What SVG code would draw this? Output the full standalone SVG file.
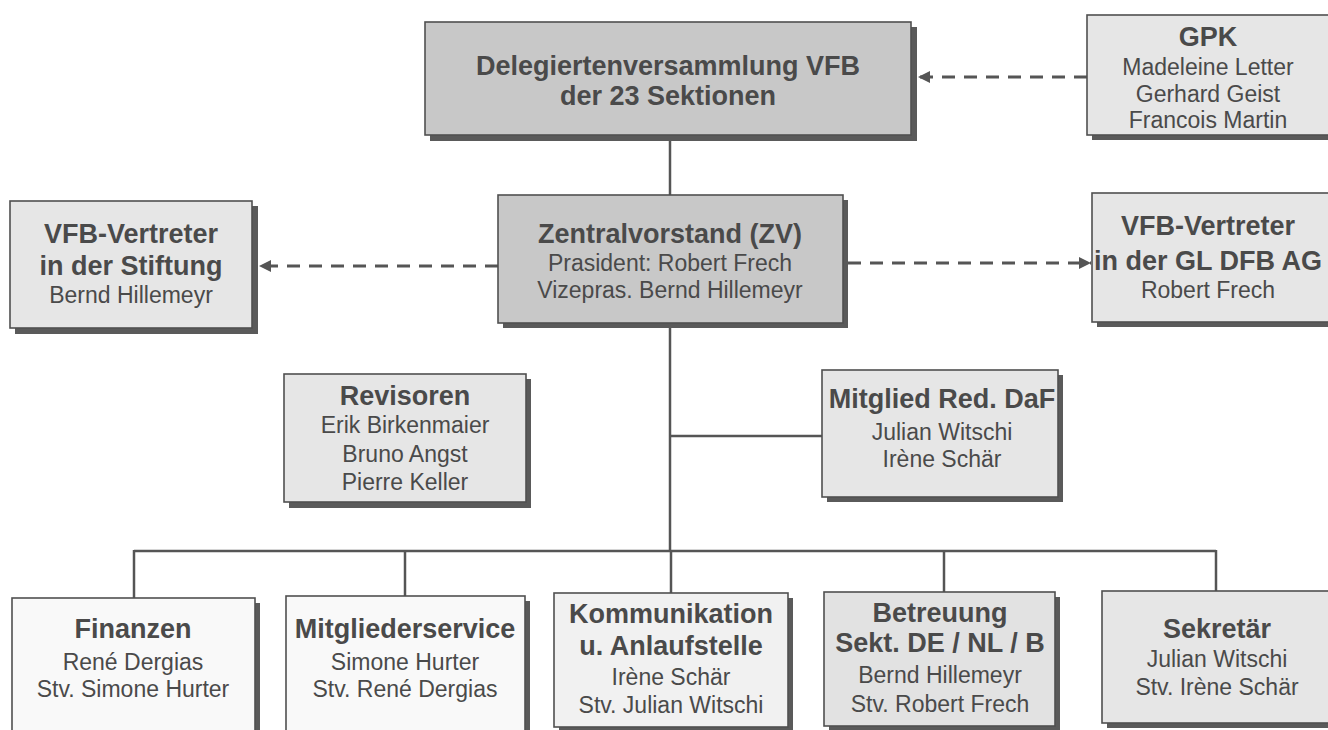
<svg xmlns="http://www.w3.org/2000/svg" width="1328" height="730" viewBox="0 0 1328 730">
<defs>
<style>
.box{stroke:#505050;stroke-width:1.6}
.dark{fill:#c8c8c8}
.lite{fill:#e6e6e6}
.white{fill:#f9f9f9}
.shadow{fill:#5a5a5a}
text{font-family:"Liberation Sans",Arial,sans-serif;text-anchor:middle;fill:#4a4a4a}
.t{font-size:27px;font-weight:bold}
.r{font-size:23px}
.ln{stroke:#555;stroke-width:2.5;fill:none}
.dash{stroke:#555;stroke-width:3;fill:none;stroke-dasharray:13 9}
</style>
<marker id="ah" viewBox="0 0 10 10" refX="10" refY="5" markerWidth="4" markerHeight="4" orient="auto-start-reverse" markerUnits="strokeWidth">
<path d="M0,0 L10,5 L0,10 z" fill="#555"/>
</marker>
</defs>
<rect width="1328" height="730" fill="#ffffff"/>
<g id="connectors">
<line class="ln" x1="670" y1="138" x2="670" y2="195"/>
<line class="ln" x1="670" y1="323" x2="670" y2="551"/>
<line class="ln" x1="670" y1="436" x2="822" y2="436"/>
<line class="ln" x1="134" y1="551" x2="1216" y2="551"/>
<line class="ln" x1="134" y1="550" x2="134" y2="598"/>
<line class="ln" x1="405" y1="550" x2="405" y2="596"/>
<line class="ln" x1="671" y1="550" x2="671" y2="593"/>
<line class="ln" x1="944" y1="550" x2="944" y2="592"/>
<line class="ln" x1="1216" y1="550" x2="1216" y2="591"/>
<line class="dash" x1="1087" y1="77" x2="918" y2="77" marker-end="url(#ah)"/>
<line class="dash" x1="498" y1="266" x2="259" y2="266" marker-end="url(#ah)"/>
<line class="dash" x1="848" y1="263" x2="1091" y2="263" marker-end="url(#ah)"/>
</g>
<g id="delegierte">
<rect class="shadow" x="430" y="27" width="487" height="114"/>
<rect class="box dark" x="425" y="22" width="486" height="113"/>
<text class="t" x="668" y="75">Delegiertenversammlung VFB</text>
<text class="t" x="668" y="105">der 23 Sektionen</text>
</g>
<g id="gpk">
<rect class="shadow" x="1092" y="20" width="245" height="120"/>
<rect class="box lite" x="1087" y="15" width="245" height="120"/>
<text class="t" x="1208" y="46">GPK</text>
<text class="r" x="1208" y="75">Madeleine Letter</text>
<text class="r" x="1208" y="102">Gerhard Geist</text>
<text class="r" x="1208" y="128">Francois Martin</text>
</g>
<g id="stiftung">
<rect class="shadow" x="15" y="206" width="243" height="128"/>
<rect class="box lite" x="10" y="201" width="242" height="127"/>
<text class="t" x="131" y="243">VFB-Vertreter</text>
<text class="t" x="131" y="275">in der Stiftung</text>
<text class="r" x="131" y="303">Bernd Hillemeyr</text>
</g>
<g id="zentralvorstand">
<rect class="shadow" x="503" y="200" width="345" height="128"/>
<rect class="box dark" x="498" y="195" width="345" height="128"/>
<text class="t" x="670" y="243">Zentralvorstand (ZV)</text>
<text class="r" x="670" y="271">Prasident: Robert Frech</text>
<text class="r" x="670" y="298">Vizepras. Bernd Hillemeyr</text>
</g>
<g id="gl-dfb">
<rect class="shadow" x="1097" y="198" width="240" height="129"/>
<rect class="box lite" x="1092" y="193" width="240" height="129"/>
<text class="t" x="1208" y="235">VFB-Vertreter</text>
<text class="t" x="1208" y="270">in der GL DFB AG</text>
<text class="r" x="1208" y="298">Robert Frech</text>
</g>
<g id="revisoren">
<rect class="shadow" x="289" y="379" width="242" height="129"/>
<rect class="box lite" x="284" y="374" width="242" height="128"/>
<text class="t" x="405" y="405">Revisoren</text>
<text class="r" x="405" y="433">Erik Birkenmaier</text>
<text class="r" x="405" y="462">Bruno Angst</text>
<text class="r" x="405" y="490">Pierre Keller</text>
</g>
<g id="mitglied-red">
<rect class="shadow" x="827" y="375" width="236" height="127"/>
<rect class="box lite" x="822" y="370" width="236" height="127"/>
<text class="t" x="942" y="408">Mitglied Red. DaF</text>
<text class="r" x="942" y="440">Julian Witschi</text>
<text class="r" x="942" y="467">Irène Schär</text>
</g>
<g id="finanzen">
<rect class="shadow" x="17" y="603" width="243" height="140"/>
<rect class="box white" x="12" y="598" width="243" height="140"/>
<text class="t" x="133" y="638">Finanzen</text>
<text class="r" x="133" y="670">René Dergias</text>
<text class="r" x="133" y="697">Stv. Simone Hurter</text>
</g>
<g id="mitgliederservice">
<rect class="shadow" x="291" y="601" width="239" height="140"/>
<rect class="box white" x="286" y="596" width="239" height="140"/>
<text class="t" x="405" y="638">Mitgliederservice</text>
<text class="r" x="405" y="670">Simone Hurter</text>
<text class="r" x="405" y="697">Stv. René Dergias</text>
</g>
<g id="kommunikation">
<rect class="shadow" x="559" y="598" width="234" height="134"/>
<rect class="box" fill="#f1f1f1" x="554" y="593" width="234" height="134"/>
<text class="t" x="671" y="623">Kommunikation</text>
<text class="t" x="671" y="655">u. Anlaufstelle</text>
<text class="r" x="671" y="685">Irène Schär</text>
<text class="r" x="671" y="713">Stv. Julian Witschi</text>
</g>
<g id="betreuung">
<rect class="shadow" x="829" y="597" width="231" height="134"/>
<rect class="box" fill="#e2e2e2" x="824" y="592" width="231" height="134"/>
<text class="t" x="940" y="622">Betreuung</text>
<text class="t" x="940" y="652">Sekt. DE / NL / B</text>
<text class="r" x="940" y="683">Bernd Hillemeyr</text>
<text class="r" x="940" y="712">Stv. Robert Frech</text>
</g>
<g id="sekretaer">
<rect class="shadow" x="1107" y="596" width="235" height="132"/>
<rect class="box lite" x="1102" y="591" width="235" height="132"/>
<text class="t" x="1217" y="638">Sekretär</text>
<text class="r" x="1217" y="667">Julian Witschi</text>
<text class="r" x="1217" y="695">Stv. Irène Schär</text>
</g>
</svg>
